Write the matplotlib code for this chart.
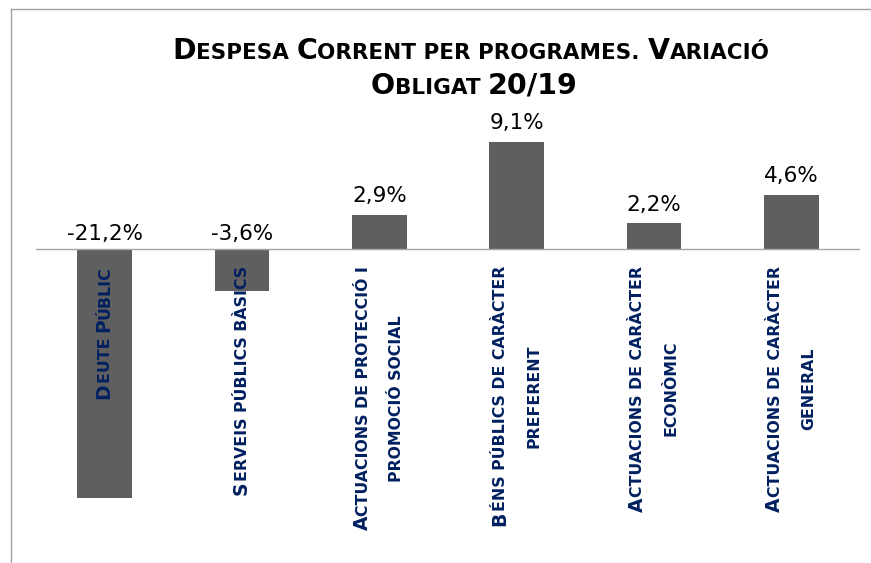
import matplotlib
matplotlib.use('Agg')
import matplotlib.pyplot as plt
from matplotlib.lines import Line2D
from matplotlib.transforms import IdentityTransform

# data
categories = [
    ['Deute Públic'],
    ['Serveis públics bàsics'],
    ['Actuacions de protecció i', 'promoció social'],
    ['Béns públics de caràcter', 'preferent'],
    ['Actuacions de caràcter', 'econòmic'],
    ['Actuacions de caràcter', 'general'],
]
values = [-21.2, -3.6, 2.9, 9.1, 2.2, 4.6]
value_labels = ['-21,2%', '-3,6%', '2,9%', '9,1%', '2,2%', '4,6%']
title_lines = ['Despesa Corrent per programes. Variació', 'Obligat 20/19']

W, H = 871, 563
BAR_COLOR = '#5f5f5f'
LABEL_COLOR = '#002060'

fig = plt.figure(figsize=(W / 100, H / 100), dpi=100)
renderer = fig.canvas.get_renderer()

# axes placed by pixel edges (from top of image)
ax_left, ax_right, ax_top, ax_bottom = 36, 860, 100, 540
zero_px = 249
px_per_unit = 11.76
ax = fig.add_axes([ax_left / W, 1 - ax_bottom / H, (ax_right - ax_left) / W, (ax_bottom - ax_top) / H])
ax.set_ylim(-(ax_bottom - zero_px) / px_per_unit, (zero_px - ax_top) / px_per_unit)
ax.set_xlim(-0.5, len(values) - 0.5)
ax.axis('off')

x = list(range(len(values)))
ax.bar(x, values, width=0.4, color=BAR_COLOR, zorder=2)
ax.axhline(0, color='#a6a6a6', lw=1, zorder=3)

for i, (v, lab) in enumerate(zip(values, value_labels)):
    off = 9 if v > 0 else 6.5
    ax.annotate(lab, xy=(i, max(v, 0)), xytext=(0, off), textcoords='offset points',
                ha='center', va='baseline', fontsize=15.5, family='DejaVu Sans', color='black')


def sc_runs(s, big, small):
    # fake small caps: lower case letters become smaller capitals
    runs = []
    for ch in s:
        if ch.islower():
            size, c = small, ch.upper()
        elif ch.isupper() or ch.isdigit() or ch == '/':
            size, c = big, ch
        else:
            size, c = small, ch
        if runs and runs[-1][1] == size:
            runs[-1][0] += c
        else:
            runs.append([c, size])
    return runs


def text_width(s, size, family, weight):
    t = fig.text(0, 0, 'H' + s + 'H', fontsize=size, family=family, weight=weight)
    w1 = t.get_window_extent(renderer).width
    t.set_text('HH')
    w2 = t.get_window_extent(renderer).width
    t.remove()
    return w1 - w2


def line_width(s, big, small, family, weight):
    return sum(text_width(c, sz, family, weight) for c, sz in sc_runs(s, big, small))


def draw_sc(xp, yp, s, big, small, family, weight, color, rotation=0):
    # xp, yp in display pixels, centred along the text direction
    runs = sc_runs(s, big, small)
    widths = [text_width(c, sz, family, weight) for c, sz in runs]
    pos = -sum(widths) / 2
    dx, dy = (1, 0) if rotation == 0 else (0, 1)
    for (c, sz), w in zip(runs, widths):
        fig.text(xp + dx * pos, yp + dy * pos, c, fontsize=sz, family=family, weight=weight,
                 color=color, rotation=rotation, rotation_mode='anchor', ha='left',
                 va='baseline', transform=IdentityTransform(), zorder=5)
        pos += w


# title
title_font = ['DejaVu Sans']
draw_sc(471, H - 59, title_lines[0], 20.5, 15.5, title_font, 'bold', 'black')
draw_sc(474, H - 94, title_lines[1], 20.5, 15.5, title_font, 'bold', 'black')

# rotated category labels, ending just under the zero line
lab_font = ['DejaVu Sans']
big, small = 13.5, 11.3
end_y = H - 266
gap = 33
for i, lines in enumerate(categories):
    cx = ax.transData.transform((i, 0))[0]
    longest = max(line_width(l, big, small, lab_font, 'bold') for l in lines)
    cy = end_y - longest / 2
    n = len(lines)
    for k, l in enumerate(lines):
        bx = cx + (k - (n - 1) / 2) * gap + 5
        draw_sc(bx, cy, l, big, small, lab_font, 'bold', LABEL_COLOR, rotation=90)

# light frame on the left and top
fig.add_artist(Line2D([11 / W, 11 / W], [0, 1 - 9 / H], color='#a0a0a0', lw=1))
fig.add_artist(Line2D([11 / W, 1], [1 - 9 / H, 1 - 9 / H], color='#a0a0a0', lw=1))

fig.savefig('out.png', dpi=100)
